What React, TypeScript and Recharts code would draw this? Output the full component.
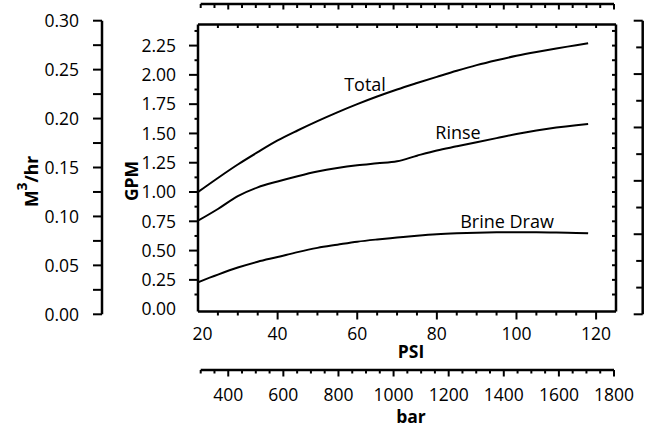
import React from 'react';
import { ComposedChart, Line, XAxis, YAxis } from 'recharts';

// ---- data ----
const psiValues = [20, 25, 30, 35, 40, 45, 50, 55, 60, 65, 70, 75, 80, 85, 90, 95, 100, 105, 110, 115, 118];
const totalGpm = [1.0, 1.12, 1.235, 1.34, 1.44, 1.525, 1.605, 1.68, 1.75, 1.815, 1.875, 1.93, 1.983, 2.035, 2.083, 2.125, 2.163, 2.196, 2.226, 2.253, 2.27];
const rinseGpm = [0.755, 0.855, 0.965, 1.04, 1.09, 1.135, 1.175, 1.205, 1.228, 1.245, 1.262, 1.31, 1.355, 1.39, 1.425, 1.46, 1.495, 1.525, 1.55, 1.57, 1.58];
const brineGpm = [0.23, 0.295, 0.355, 0.405, 0.445, 0.487, 0.523, 0.55, 0.576, 0.595, 0.611, 0.627, 0.64, 0.648, 0.653, 0.656, 0.657, 0.657, 0.655, 0.651, 0.647];

// ---- tick values ----
const psiTicks = [20, 25, 30, 35, 40, 45, 50, 55, 60, 65, 70, 75, 80, 85, 90, 95, 100, 105, 110, 115, 120];
const psiTopTicks = [25, 30, 35, 40, 45, 50, 55, 60, 65, 70, 75, 80, 85, 90, 95, 100, 105, 110, 115, 120];
const gpmTicks = [0, 0.125, 0.25, 0.375, 0.5, 0.625, 0.75, 0.875, 1, 1.125, 1.25, 1.375, 1.5, 1.625, 1.75, 1.875, 2, 2.125, 2.25, 2.375];
const m3Ticks = [0, 0.025, 0.05, 0.075, 0.1, 0.125, 0.15, 0.175, 0.2, 0.225, 0.25, 0.275, 0.3];
const barTicks = [300, 350, 400, 450, 500, 550, 600, 650, 700, 750, 800, 850, 900, 950, 1000, 1050, 1100, 1150, 1200, 1250, 1300, 1350, 1400, 1450, 1500, 1550, 1600, 1650, 1700, 1750, 1800];
const rightTicks = [0, 1, 2, 3, 4, 5, 6, 7, 8, 9, 10, 11];
const rightLongTicks = [0, 3, 5, 7, 9, 11];

const tableData = psiValues.map((p, i) => ({ psi: p, total: totalGpm[i], rinse: rinseGpm[i], brine: brineGpm[i] }));
const barData = barTicks.map((b) => ({ bar: b }));
const rightData = rightTicks.map((r, i) => ({ r, m3: m3Ticks[i] ?? 0 }));

const FONT = "'Open Sans', 'Liberation Sans', sans-serif";
const TICK_FS = 17.5;

const isMult = (v: number, step: number) => Math.abs(v / step - Math.round(v / step)) < 1e-6;

const PsiTick = (p: any) => {
  const { x, y, payload } = p;
  const v = payload.value;
  const major = isMult(v, 20);
  return (
    <g>
      {v !== 20 && <line x1={x} x2={x} y1={y} y2={y + (major ? 8 : 4)} stroke="#000" strokeWidth={2} />}
      {major && (
        <text x={x + (v === 20 ? 4.5 : 0)} y={y + 28.5} textAnchor="middle" fontFamily={FONT} fontSize={TICK_FS} fill="#000">
          {v}
        </text>
      )}
    </g>
  );
};

const PsiTopTick = (p: any) => {
  const { x, y } = p;
  return <line x1={x} x2={x} y1={y} y2={y + 3.5} stroke="#000" strokeWidth={2} />;
};

const GpmTick = (p: any) => {
  const { x, y, payload } = p;
  const v = payload.value;
  const major = isMult(v, 0.25);
  return (
    <g>
      {v !== 0 && <line x1={x - (major ? 9 : 3.5)} x2={x} y1={y} y2={y} stroke="#000" strokeWidth={2} />}
      {major && (
        <text x={x - 22} y={y} dy="0.36em" textAnchor="end" fontFamily={FONT} fontSize={TICK_FS} fill="#000">
          {v.toFixed(2)}
        </text>
      )}
    </g>
  );
};

const GpmRightTick = (p: any) => {
  const { x, y, payload } = p;
  if (payload.value === 0) return <g />;
  return <line x1={x - 4} x2={x} y1={y} y2={y} stroke="#000" strokeWidth={2} />;
};

const M3Tick = (p: any) => {
  const { x, y, payload } = p;
  const v = payload.value;
  const major = isMult(v, 0.05);
  return (
    <g>
      <line x1={x - 9} x2={x} y1={y} y2={y} stroke="#000" strokeWidth={2} />
      {major && (
        <text x={x - 23} y={y} dy="0.36em" textAnchor="end" fontFamily={FONT} fontSize={TICK_FS} fill="#000">
          {v.toFixed(2)}
        </text>
      )}
    </g>
  );
};

const RightTick = (p: any) => {
  const { x, y, payload } = p;
  const long = rightLongTicks.includes(payload.value);
  return <line x1={x - (long ? 9 : 6.5)} x2={x} y1={y} y2={y} stroke="#000" strokeWidth={2} />;
};

const BarTick = (p: any) => {
  const { x, y, payload } = p;
  const v = payload.value;
  const major = isMult(v, 200);
  return (
    <g>
      <line x1={x} x2={x} y1={y} y2={y + (major ? 6.5 : 3.5)} stroke="#000" strokeWidth={2} />
      {major && v > 300 && (
        <text x={x} y={y + 31} textAnchor="middle" fontFamily={FONT} fontSize={TICK_FS} fill="#000">
          {v}
        </text>
      )}
    </g>
  );
};

const BarTopTick = (p: any) => {
  const { x, y, payload } = p;
  const major = isMult(payload.value, 200);
  return <line x1={x} x2={x} y1={y} y2={y + (major ? 5.5 : 4)} stroke="#000" strokeWidth={2} />;
};

const W = 654;
const H = 437;
const axisLine = { stroke: '#000', strokeWidth: 2.5 };
const abs: React.CSSProperties = { position: 'absolute', left: 0, top: 0 };

const common = {
  type: 'number' as const,
  interval: 0 as const,
  allowDataOverflow: true,
  tickSize: 0,
  tickMargin: 0,
  tickLine: false,
  axisLine,
};

export default function App() {
  return (
    <div style={{ position: 'absolute', left: 0, top: 0, width: W, height: H, background: '#fff' }}>
      {/* standalone M3/hr axis and right axis */}
      <div style={abs}>
        <ComposedChart width={W} height={H} margin={{ top: 20.7, left: 22, right: 10.3, bottom: 122.7 }} data={rightData}>
          <XAxis xAxisId="hx" dataKey="r" type="number" domain={[0, 11]} hide height={1} />
          <YAxis yAxisId="m3" orientation="left" width={80} domain={[0, 0.3]} ticks={m3Ticks} tick={M3Tick} {...common} />
          <YAxis yAxisId="r" orientation="right" width={1} domain={[0, 11]} ticks={rightTicks} tick={RightTick} {...common} />
        </ComposedChart>
      </div>
      {/* standalone bar axes (top & bottom) */}
      <div style={abs}>
        <ComposedChart width={W} height={H} margin={{ top: 3, left: 200.7, right: 40, bottom: 0 }} data={barData}>
          <YAxis yAxisId="hy" type="number" domain={[0, 1]} hide width={1} />
          <XAxis xAxisId="barTop" dataKey="bar" orientation="top" height={1} domain={[300, 1800]} ticks={barTicks} tick={BarTopTick} {...common} />
          <XAxis xAxisId="bar" dataKey="bar" orientation="bottom" height={67} domain={[300, 1800]} ticks={barTicks} tick={BarTick} {...common} />
        </ComposedChart>
      </div>
      {/* main plot */}
      <div style={abs}>
        <ComposedChart width={W} height={H} margin={{ top: 23.5, left: 138, right: 37, bottom: 95.5 }} data={tableData}>
          <XAxis xAxisId="psi" dataKey="psi" orientation="bottom" height={30} domain={[20, 125]} ticks={psiTicks} tick={PsiTick} {...common} />
          <XAxis xAxisId="psiTop" dataKey="psi" orientation="top" height={1} domain={[20, 125]} ticks={psiTopTicks} tick={PsiTopTick} {...common} />
          <YAxis yAxisId="gpm" orientation="left" width={60} domain={[-0.02, 2.43]} ticks={gpmTicks} tick={GpmTick} {...common} />
          <YAxis yAxisId="gpmR" orientation="right" width={1} domain={[-0.02, 2.43]} ticks={gpmTicks} tick={GpmRightTick} {...common} />
          <Line xAxisId="psi" yAxisId="gpm" type="monotone" dataKey="total" stroke="#000" strokeWidth={2} dot={false} isAnimationActive={false} />
          <Line xAxisId="psi" yAxisId="gpm" type="monotone" dataKey="rinse" stroke="#000" strokeWidth={2} dot={false} isAnimationActive={false} />
          <Line xAxisId="psi" yAxisId="gpm" type="monotone" dataKey="brine" stroke="#000" strokeWidth={2} dot={false} isAnimationActive={false} />
        </ComposedChart>
      </div>
      {/* titles and series labels */}
      <svg width={W} height={H} style={{ ...abs, pointerEvents: 'none' }}>
        <g fontFamily={FONT} fill="#000">
          <text transform="translate(38,181.5) rotate(-90)" textAnchor="middle" fontSize={17.5} fontWeight="bold">
            M<tspan dy={-11} fontSize={14}>3</tspan><tspan dy={11}>/hr</tspan>
          </text>
          <text transform="translate(137.5,181) rotate(-90)" textAnchor="middle" fontSize={17.5} fontWeight="bold">
            GPM
          </text>
          <text x={411} y={358} textAnchor="middle" fontSize={17.5} fontWeight="bold">PSI</text>
          <text x={411} y={423} textAnchor="middle" fontSize={17.5} fontWeight="bold">bar</text>
          <text x={365} y={90.5} textAnchor="middle" fontSize={18}>Total</text>
          <text x={458} y={139} textAnchor="middle" fontSize={18}>Rinse</text>
          <text x={507} y={228} textAnchor="middle" fontSize={18}>Brine Draw</text>
        </g>
      </svg>
    </div>
  );
}
